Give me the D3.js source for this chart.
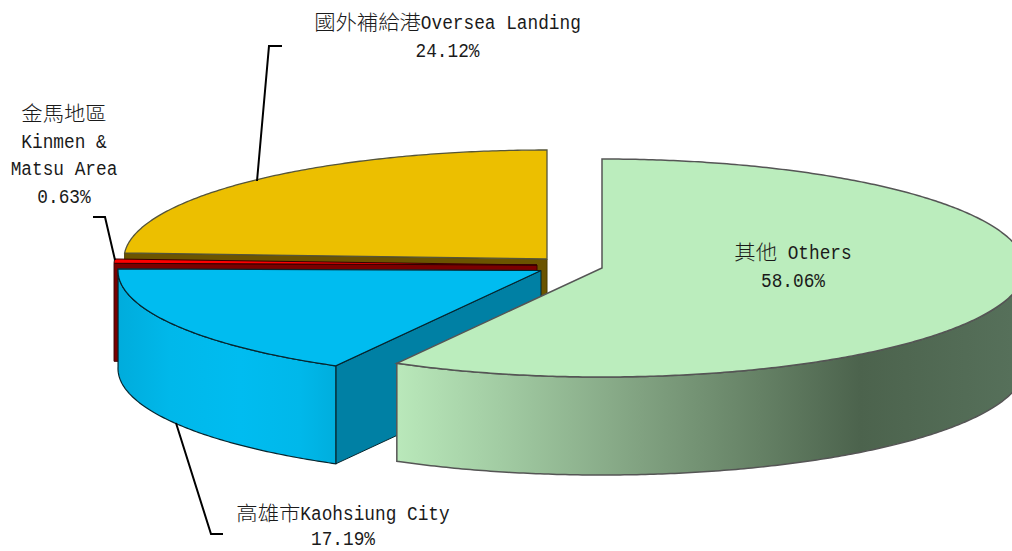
<!DOCTYPE html>
<html><head><meta charset="utf-8">
<style>html,body{margin:0;padding:0;background:#fff;overflow:hidden}svg{display:block}</style>
<script src="https://cdn.jsdelivr.net/npm/d3@7/dist/d3.min.js"></script>
</head><body><div id="c"></div>
<script>
const categories = ["其他 Others","高雄市Kaohsiung City","金馬地區 Kinmen & Matsu Area","國外補給港Oversea Landing"];
const values = [58.06,17.19,0.63,24.12];
const labelLines = [["其他 Others","58.06%"],["高雄市Kaohsiung City","17.19%"],["金馬地區","Kinmen &","Matsu Area","0.63%"],["國外補給港Oversea Landing","24.12%"]];

const W=1012,H=551,RX=423,RY=109,DEPTH=98;
const centers=[[602,268],[541,270.5],[537,265],[547,259]];
const tops=["#bbedbd","#00bcf0","#ff0000","#ecbf00"];
const cuts=["#6f8f70","#0080a4","#7a0000","#6b5400"];
const strokes=["#555","#06262f","#300","#55553a"];
const strokeW=[1.5,1.2,1,1.3];
const labelPos=[[793,259],[343,520],[64,120],[447.5,29]];
const labelPitch=[27.7,25,27.7,27.7];
const leaders=[null,[[176,423],[211,534],[223,534]],[[93,217],[105,217],[115,260]],[[257,181],[269,46],[282,46]]];

const svg=d3.select("#c").append("svg").attr("width",W).attr("height",H);
const defs=svg.append("defs");
function grad(id,stops){
  const x0=stops[0][0],x1=stops[stops.length-1][0];
  const g=defs.append("linearGradient").attr("id",id).attr("gradientUnits","userSpaceOnUse")
    .attr("x1",x0).attr("x2",x1).attr("y1",0).attr("y2",0);
  stops.forEach(s=>g.append("stop").attr("offset",(s[0]-x0)/(x1-x0)).attr("stop-color",s[1]));
}
grad("gGreen",[[398,"#b9e8ba"],[500,"#a2cca3"],[640,"#81a281"],[760,"#658165"],[860,"#4c634d"],[1012,"#56705a"]]);
grad("gBlue",[[118,"#00acdc"],[170,"#00b8ea"],[240,"#00bcf0"],[300,"#00b8ea"],[336,"#00aedd"]]);
const walls=["url(#gGreen)","url(#gBlue)","#7a0000","#6b5400"];

const arcs=d3.pie().sort(null).value(d=>d).startAngle(0).endAngle(2*Math.PI)(values);
const ux=d3.scaleLinear().domain([-1,1]).range([-RX,RX]);
const uy=d3.scaleLinear().domain([-1,1]).range([RY,-RY]);
const pt=(i,a,dz=0)=>[centers[i][0]+ux(Math.sin(a)),centers[i][1]+uy(Math.cos(a))+dz];
const line=d3.line();
const sweep=(i,a0,a1,dz=0)=>{
  const n=Math.max(2,Math.ceil(Math.abs(a1-a0)/0.01));
  return d3.range(n+1).map(k=>pt(i,a0+(a1-a0)*k/n,dz));
};
const PI2=Math.PI/2;
[3,2,1,0].forEach(i=>{
  const a=arcs[i],c=centers[i],g=svg.append("g");
  const apex=[c[0],c[1]],apexB=[c[0],c[1]+DEPTH];
  if(i>=1){
    g.append("path").attr("d",line([apex,pt(i,a.startAngle),pt(i,a.startAngle,DEPTH),apexB])+"Z")
     .attr("fill",cuts[i]).attr("stroke",i===1?strokes[1]:(i===2?"#3a0000":"#4a3a00")).attr("stroke-width",1);
  }
  const w0=Math.max(a.startAngle,PI2),w1=Math.min(a.endAngle,3*PI2);
  const wEnd=i===1?a.endAngle:w1;
  if(wEnd>w0){
    const top=sweep(i,w0,wEnd),bot=sweep(i,wEnd,w0,DEPTH);
    g.append("path").attr("d",line(top.concat(bot))+"Z").attr("fill",walls[i])
     .attr("stroke",strokes[i]).attr("stroke-width",strokeW[i]);
  }
  g.append("path").attr("d",line([apex].concat(sweep(i,a.startAngle,a.endAngle)))+"Z")
   .attr("fill",tops[i]).attr("stroke",strokes[i]).attr("stroke-width",strokeW[i]);
});

leaders.forEach(l=>{ if(l) svg.append("path").attr("d",line(l)).attr("fill","none").attr("stroke","#000").attr("stroke-width",2);});

// labels: CJK at full width, Latin at half width (compressed tall monospace)
const CELL=10.67;
labelLines.forEach((lines,i)=>{
  lines.forEach((ln,j)=>{
    const runs=ln.match(/[\u2E80-\u9FFF]+|[^\u2E80-\u9FFF]+/g);
    const width=d3.sum(runs,r=>/[\u2E80-\u9FFF]/.test(r[0])?r.length*CELL*2:r.length*CELL);
    let x=labelPos[i][0]-width/2;
    const y=labelPos[i][1]+j*labelPitch[i];
    runs.forEach(r=>{
      const cjk=/[\u2E80-\u9FFF]/.test(r[0]);
      const w=r.length*CELL*(cjk?2:1);
      const t=svg.append("text").attr("x",x).attr("y",cjk?y+0.5:y).attr("fill","#1a1a1a")
        .attr("xml:space","preserve").style("white-space","pre")
        .attr("font-family",cjk?"'Noto Sans CJK TC'":"'Liberation Mono'")
        .attr("font-weight",cjk?300:400)
        .attr("font-size",cjk?20.6:20.5)
        .attr("textLength",w).attr("lengthAdjust","spacingAndGlyphs")
        .text(r);
      x+=w;
    });
  });
});
</script></body></html>
